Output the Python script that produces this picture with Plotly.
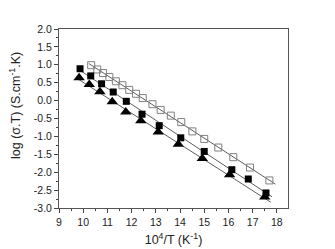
import numpy as np
import plotly.graph_objects as go

# open squares
x_open = [10.33, 10.58, 10.82, 11.08, 11.35, 11.62, 11.9, 12.18, 12.46, 12.86, 13.2, 13.62, 14.05, 14.51, 15.0, 15.58, 16.2, 16.89, 17.69]
y_open = [0.99, 0.87, 0.77, 0.66, 0.54, 0.43, 0.30, 0.19, 0.07, -0.10, -0.26, -0.42, -0.60, -0.86, -1.07, -1.31, -1.58, -1.87, -2.23]
# filled squares
x_sq = [9.87, 10.31, 10.76, 11.24, 11.78, 12.43, 13.14, 14.03, 15.0, 16.14, 16.82, 17.55]
y_sq = [0.89, 0.69, 0.47, 0.24, -0.02, -0.38, -0.70, -1.04, -1.42, -1.93, -2.19, -2.58]
# filled triangles
x_tri = [9.83, 10.25, 10.69, 11.2, 11.76, 12.38, 13.1, 13.93, 14.92, 16.05, 17.5]
y_tri = [0.64, 0.45, 0.25, -0.03, -0.32, -0.56, -0.88, -1.22, -1.62, -2.07, -2.69]

x_ticks = [9, 10, 11, 12, 13, 14, 15, 16, 17, 18]
x_ticktext = ["9", "10", "11", "12", "13", "14", "15", "16", "17", "18"]
y_ticks = [2.0, 1.5, 1.0, 0.5, 0.0, -0.5, -1.0, -1.5, -2.0, -2.5, -3.0]
y_ticktext = ["2.0", "1.5", "1.0", "0.5", "0.0", "-0.5", "-1.0", "-1.5", "-2.0", "-2.5", "-3.0"]

x_title = "10<sup>4</sup>/T (K<sup>-1</sup>)"
y_title = "log (σ.T) (S.cm<sup>-1</sup>.K)"

fig = go.Figure()

def fit_line(xs, ys):
    k, b = np.polyfit(xs, ys, 1)
    xl = np.array([min(xs) - 0.1, max(xs) + 0.25])
    return xl, k * xl + b

for xs, ys in [(x_open, y_open), (x_sq, y_sq), (x_tri, y_tri)]:
    xl, yl = fit_line(xs, ys)
    fig.add_trace(go.Scatter(x=xl, y=yl, mode="lines",
                             line=dict(color="#333333", width=0.8), showlegend=False))

fig.add_trace(go.Scatter(x=x_open, y=y_open, mode="markers", showlegend=False,
                         marker=dict(symbol="square-open", size=7, color="#808080",
                                     line=dict(width=1, color="#808080"))))
fig.add_trace(go.Scatter(x=x_sq, y=y_sq, mode="markers", showlegend=False,
                         marker=dict(symbol="square", size=7, color="black")))
fig.add_trace(go.Scatter(x=x_tri, y=y_tri, mode="markers", showlegend=False,
                         marker=dict(symbol="triangle-up", size=10, color="black")))

font_family = "Liberation Sans, Arial, sans-serif"
fig.update_layout(
    width=327, height=241,
    margin=dict(l=51, r=47, t=21, b=41),
    paper_bgcolor="white", plot_bgcolor="white",
    font=dict(family=font_family, color="#222222"),
    xaxis=dict(range=[9, 18.46], tickvals=x_ticks, ticktext=x_ticktext, automargin=False,
               ticks="outside", ticklen=4, tickwidth=1, tickcolor="#444",
               showline=True, linecolor="#555", linewidth=1, mirror=True,
               showgrid=False, zeroline=False, tickfont=dict(size=10.5),
               minor=dict(ticks="outside", ticklen=2, dtick=0.5, tick0=9, tickcolor="#444"),
               title=dict(text=x_title, font=dict(size=12.5), standoff=8)),
    yaxis=dict(range=[-3, 2], tickvals=y_ticks, ticktext=y_ticktext, automargin=False,
               ticks="outside", ticklen=4, tickwidth=1, tickcolor="#444",
               showline=True, linecolor="#555", linewidth=1, mirror=True,
               showgrid=False, zeroline=False, tickfont=dict(size=10.5),
               minor=dict(ticks="outside", ticklen=2, dtick=0.25, tick0=0, tickcolor="#444")),
    annotations=[dict(text=y_title, xref="paper", yref="paper", x=0, y=0.57,
                      xshift=-44, xanchor="center", yanchor="middle", textangle=-90,
                      showarrow=False, font=dict(size=12.5, color="#222222"))],
)

fig.write_html("out.html")
